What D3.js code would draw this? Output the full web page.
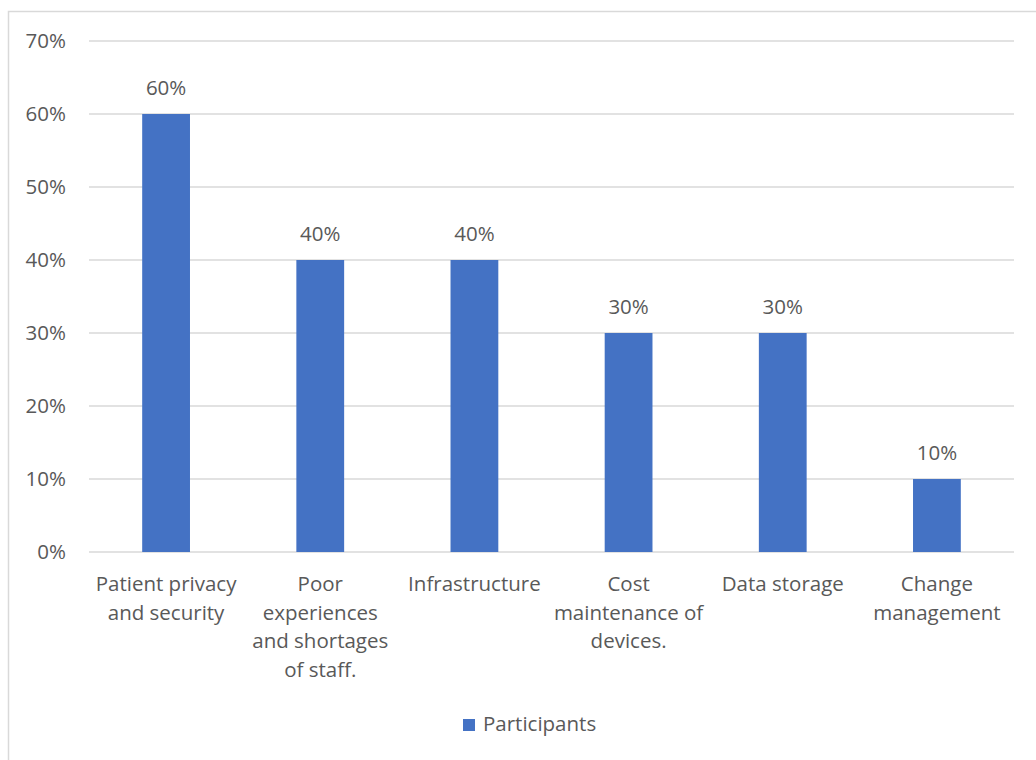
<!DOCTYPE html>
<html><head><meta charset="utf-8">
<script src="https://cdn.jsdelivr.net/npm/d3@7"></script>
<style>body{margin:0;background:#fff}text{font-family:"Open Sans",sans-serif;fill:#595959}</style>
</head><body><svg id="c" width="1036" height="760"></svg>
<script>
const categories = ["Patient privacy and security","Poor experiences and shortages of staff.","Infrastructure","Cost maintenance of devices.","Data storage","Change management"];
const categoryLines = [["Patient privacy","and security"],["Poor","experiences","and shortages","of staff."],["Infrastructure"],["Cost","maintenance of","devices."],["Data storage"],["Change","management"]];
const values = [0.60,0.40,0.40,0.30,0.30,0.10];
const valueLabels = ["60%","40%","40%","30%","30%","10%"];
const yTicks = [0,0.1,0.2,0.3,0.4,0.5,0.6,0.7];
const seriesName = "Participants";

const FS = "20.5px";
const svg = d3.select("#c");
svg.append("rect").attr("x",8.5).attr("y",11.5).attr("width",1100).attr("height",900).attr("fill","#fff").attr("stroke","#d9d9d9").attr("stroke-width",1.5);

const x = d3.scaleBand().domain(categories).range([89,1014]).paddingInner(0.69).paddingOuter(0.345);
const y = d3.scaleLinear().domain([0,0.7]).range([552,41]);

const g = svg.append("g");
g.selectAll("line.grid").data(yTicks).join("line").attr("class","grid")
 .attr("x1",89).attr("x2",1014).attr("y1",d=>y(d)).attr("y2",d=>y(d))
 .attr("stroke","#d9d9d9").attr("stroke-width",1.5);

const yAxis = d3.axisLeft(y).tickValues(yTicks).tickFormat(d3.format(".0%")).tickSize(0).tickPadding(0);
const ya = g.append("g").attr("transform","translate(66,0)").call(yAxis);
ya.select(".domain").remove();
ya.selectAll("text").style("font-size",FS).attr("fill","#595959").attr("font-family","Open Sans");

g.selectAll("rect.bar").data(values).join("rect").attr("class","bar")
 .attr("x",(d,i)=>x(categories[i])).attr("width",x.bandwidth())
 .attr("y",d=>y(d)).attr("height",d=>y(0)-y(d)).attr("fill","#4472c4");

g.selectAll("text.val").data(values).join("text").attr("class","val")
 .attr("x",(d,i)=>x(categories[i])+x.bandwidth()/2).attr("y",d=>y(d)-19)
 .attr("text-anchor","middle").style("font-size",FS).text((d,i)=>valueLabels[i]);

categories.forEach((c,i)=>{
  const t = g.append("text").attr("text-anchor","middle").style("font-size",FS)
    .attr("x",x(c)+x.bandwidth()/2).attr("y",591);
  categoryLines[i].forEach((ln,j)=>t.append("tspan").attr("x",x(c)+x.bandwidth()/2).attr("dy",j?28.7:0).text(ln));
});

svg.append("rect").attr("x",463).attr("y",719).attr("width",12).attr("height",12).attr("fill","#4472c4");
svg.append("text").attr("x",483).attr("y",731).style("font-size",FS).text(seriesName);
</script></body></html>
